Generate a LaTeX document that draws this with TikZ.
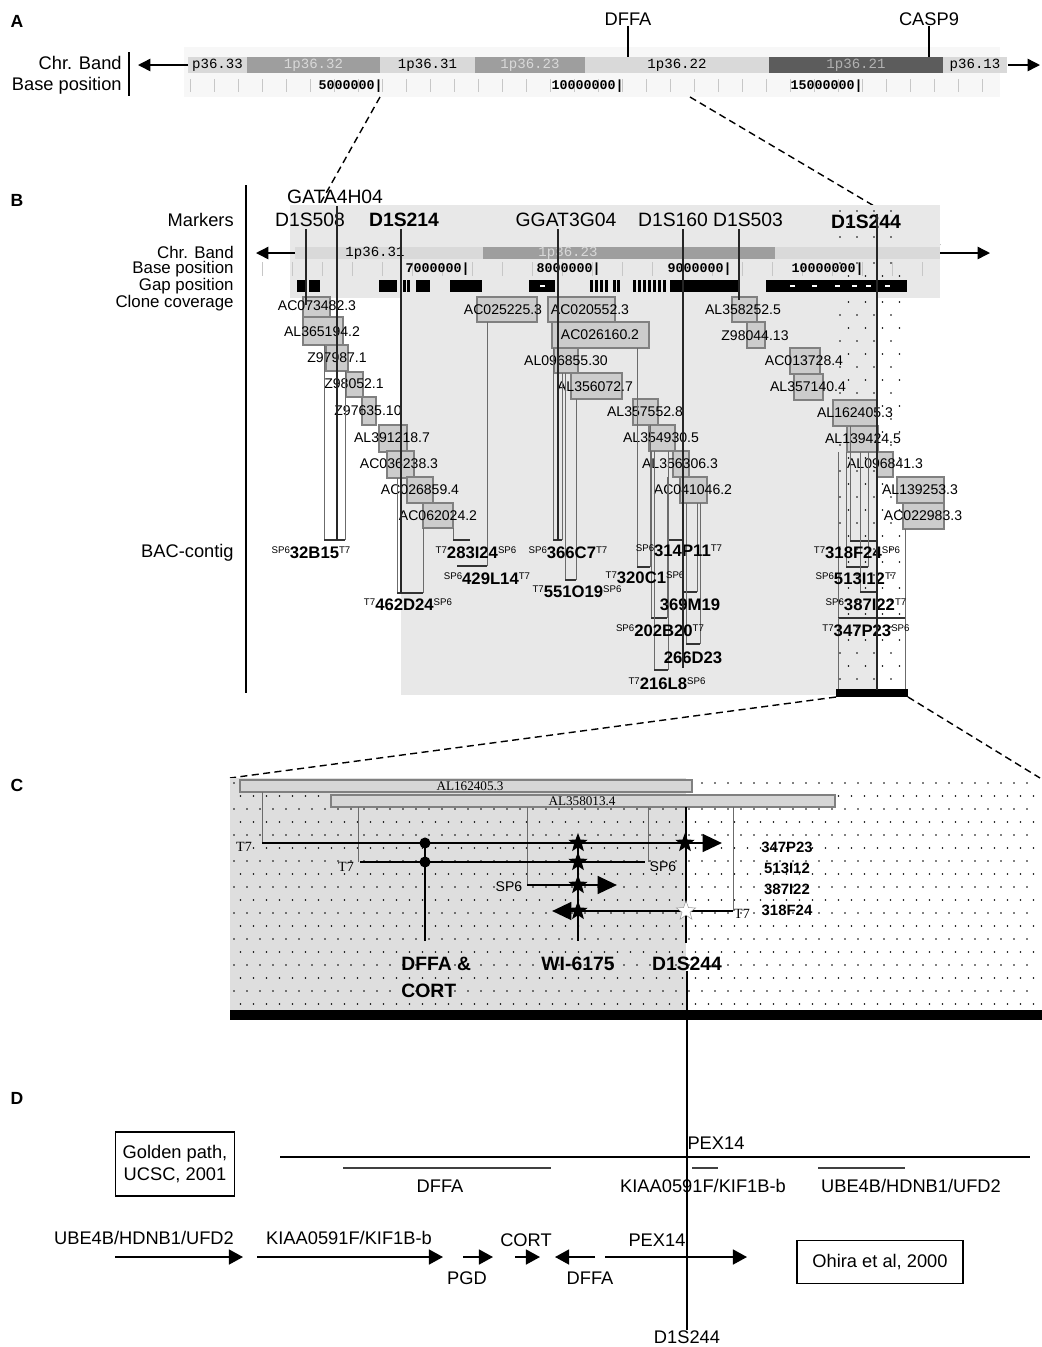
\documentclass[tikz,border=0pt]{standalone}
\usepackage{fontspec}
\setmainfont{Liberation Sans}
\setmonofont{Liberation Mono}
\newfontfamily\seriffont{Liberation Serif}
\usetikzlibrary{shapes.geometric, arrows.meta, positioning, calc}

\definecolor{bandpale}{gray}{0.85}
\definecolor{bandmid}{gray}{0.62}
\definecolor{banddeep}{gray}{0.36}
\definecolor{panelgray}{gray}{0.91}
\definecolor{windowgray}{gray}{0.87}
\definecolor{clonefill}{gray}{0.80}
\definecolor{cloneedge}{gray}{0.50}
\definecolor{bacline}{gray}{0.42}
\definecolor{tickgray}{gray}{0.78}

\newcommand{\bacname}[3]{\raisebox{0.55ex}{\fontsize{5.5}{6}\selectfont\mdseries #1}#2\raisebox{0.55ex}{\fontsize{5.5}{6}\selectfont\mdseries #3}}

\begin{document}
\begin{tikzpicture}[x=0.02cm, y=-0.02cm,
    panellabel/.style={font=\fontsize{10}{12}\selectfont\bfseries, inner sep=0pt},
    tracklabel/.style={font=\fontsize{10.4}{11}\selectfont, anchor=east, inner sep=0pt},
    tighttrack/.style={tracklabel, font=\fontsize{9.6}{10}\selectfont},
    genelabel/.style={font=\fontsize{10.4}{11}\selectfont, inner sep=0pt},
    bandtext/.style={font=\fontsize{8}{9}\selectfont\ttfamily, inner sep=0pt},
    basetext/.style={font=\fontsize{7.6}{9}\selectfont\ttfamily\bfseries, anchor=east, inner sep=0pt},
    marker/.style={font=\fontsize{11}{12}\selectfont, inner sep=0pt},
    markerline/.style={line width=1.1pt, black!85},
    clonebox/.style={fill=clonefill, draw=cloneedge, line width=0.6pt},
    clonetext/.style={font=\fontsize{8}{9}\selectfont, inner sep=0pt},
    baclabel/.style={font=\fontsize{9.5}{10}\selectfont\bfseries, inner sep=0pt},
    bacbar/.style={line width=1pt, black!80},
    bacside/.style={line width=0.4pt, bacline},
    zoomline/.style={line width=0.8pt, dash pattern=on 4pt off 2.5pt},
    bandarrow/.style={-{Triangle[length=7pt,width=7pt]}, line width=0.8pt},
    readarrow/.style={-{Triangle[length=11pt,width=10pt]}, line width=1.6pt},
    readline/.style={line width=1.6pt},
    siteline/.style={line width=1.1pt},
    endtext/.style={font=\fontsize{8}{9}\selectfont, inner sep=0pt},
    seqtext/.style={font=\fontsize{7.5}{8}\selectfont\seriffont, inner sep=0pt},
    probe/.style={star, star points=5, star point ratio=2.4, fill=black,
                  inner sep=0pt, minimum size=11.5pt},
    endpoint/.style={circle, fill=black, inner sep=0pt, minimum size=6.3pt},
    sitelabel/.style={font=\fontsize{11}{15}\selectfont\bfseries, inner sep=0pt},
    readname/.style={font=\fontsize{8.5}{9}\selectfont\bfseries, inner sep=0pt},
    framebox/.style={draw, line width=0.9pt, font=\fontsize{10.4}{12.5}\selectfont,
                     align=center, inner sep=0pt},
    geneline/.style={line width=1.3pt, black!75},
    genearrow/.style={-{Triangle[length=8pt,width=8.5pt]}, line width=1pt},
]
\useasboundingbox (0,0) rectangle (1042,1347);

% ======================================================
% A: overview of 1p36 bands with DFFA and CASP9
% ======================================================
\node[panellabel] (labA) at (17,21) {A};
\fill[panelgray!35] (184,47) rectangle (1000,97);
\node[genelabel] (dffaA) at (628,19) {DFFA};
\node[genelabel] (casp9A) at (929,19) {CASP9};
\coordinate (dffaTick) at (628,57);
\coordinate (casp9Tick) at (929,57);
\draw[line width=0.7pt] (dffaA.south) -- (dffaTick);
\draw[line width=0.7pt] (casp9A.south) -- (casp9Tick);

\node[tracklabel] (chrA) at (122,63) {Chr. Band};
\node[tracklabel] (baseA) at (122,86) {Base position};
\draw[line width=0.6pt] (129,52) -- (129,96);

\foreach \xa/\xb/\shade/\band/\ink [count=\i] in
   {188/247/bandpale/p36.33/black, 247/380/bandmid/1p36.32/white!85!black,
    380/475/bandpale/1p36.31/black, 475/585/bandmid/1p36.23/white!85!black,
    585/769/bandpale/1p36.22/black, 769/943/banddeep/1p36.21/white!70!black,
    943/1007/bandpale/p36.13/black} {
  \fill[\shade] (\xa,57) rectangle (\xb,73);
  \node[bandtext, text=\ink] (bandA\i) at ({(\xa+\xb)/2},65) {\band};
}
\draw[bandarrow] (188,65) -- (138,65);
\draw[bandarrow] (1008,65) -- (1040,65);

\foreach \k in {0,...,33}
  \draw[tickgray, line width=0.4pt] ({190+24*\k},79) -- ({190+24*\k},92);
\foreach \pos/\val [count=\i] in {383/5000000, 624/10000000, 863/15000000}
  \node[basetext] (posA\i) at (\pos,86) {\val|};

% zoom from A to B
\coordinate (zA1) at (380,97);  \coordinate (zB1) at (293,252);
\coordinate (zA2) at (690,97);  \coordinate (zB2) at (940,245);
\draw[zoomline] (zA1) -- (zB1);
\draw[zoomline] (zA2) -- (zB2);

% ======================================================
% B: markers, gaps, clone coverage and the BAC contig
% ======================================================
\node[panellabel] (labB) at (17,200) {B};
\fill[panelgray] (290,205) rectangle (940,298);
\fill[panelgray] (401,298) rectangle (905,695);
\fill[white] (877,298) rectangle (908,690);
% dotted D1S244 window
\foreach \r in {0,...,36}
  \foreach \c in {0,...,3}
    \fill ({840+17*\c+8.5*mod(\r,2)},{211+13*\r}) circle[radius=0.55pt];

\node[tracklabel] (trackB1) at (234,220) {Markers};
\foreach \txt/\yy [count=\i from 2] in {Chr. Band/252, Base position/269,
                                        Gap position/286, Clone coverage/303}
  \node[tighttrack] (trackB\i) at (234,\yy) {\txt};
\node[tracklabel] (trackB6) at (234,553) {BAC-contig};
\draw[line width=0.6pt] (246,185) -- (246,693);

% chromosome band
\fill[bandpale] (295,247) rectangle (940,259);
\fill[bandmid] (483,247) rectangle (775,259);
\node[bandtext] (bandB1) at (375,253) {1p36.31};
\node[bandtext, text=white!85!black] (bandB2) at (568,253) {1p36.23};
\draw[bandarrow] (295,253) -- (256,253);
\draw[bandarrow] (940,253) -- (990,253);

% base position
\foreach \k in {0,...,22}
  \draw[tickgray, line width=0.4pt] ({262+30*\k},262) -- ({262+30*\k},276);
\foreach \pos/\val [count=\i] in {470/7000000, 601/8000000, 732/9000000, 864/10000000}
  \node[basetext] (posB\i) at (\pos,269) {\val|};

% gap position
\foreach \xa/\xb in {297/306, 309/320, 379/397, 416/430, 450/482, 529/555, 670/740, 766/907}
  \fill (\xa,280) rectangle (\xb,292);
\foreach \xx in {403,407,590,595,600,605,613,617,633,638,643,648,653,658,663}
  \fill (\xx,280) rectangle ({\xx+2.5},292);
\foreach \xx in {540,790,812,835,852,866,885}
  \fill[white] (\xx,285) rectangle ({\xx+5},287);

% clone coverage
\foreach \xa/\ya/\xb/\yb/\lx/\ly/\acc [count=\i] in
   {303/297/330/317/317/306/AC073482.3, 303/317/343/345/322/332/AL365194.2,
    326/345/348/371/337/358/Z97987.1,   346/372/363/397/354/384/Z98052.1,
    362/397/376/425/368/411/Z97635.10,  379/425/407/452/392/438/AL391218.7,
    387/451/414/478/399/464/AC036238.3, 407/477/433/503/420/490/AC026859.4,
    423/503/453/528/438/516/AC062024.2, 477/297/537/322/503/310/AC025225.3,
    548/297/615/322/590/310/AC020552.3, 552/322/649/348/600/335/AC026160.2,
    554/348/578/373/566/361/AL096855.30, 571/373/622/399/595/387/AL356072.7,
    633/399/658/425/645/412/AL357552.8, 649/425/675/451/661/438/AL354930.5,
    673/451/689/477/680/464/AL356306.3, 680/477/707/503/693/490/AC041046.2,
    732/297/757/322/743/310/AL358252.5, 747/322/765/348/755/336/Z98044.13,
    790/348/820/374/804/361/AC013728.4, 794/374/823/400/808/387/AL357140.4,
    833/400/877/426/855/413/AL162405.3, 847/426/878/452/863/439/AL139424.5,
    877/452/893/477/885/464/AL096841.3, 897/477/944/503/920/490/AL139253.3,
    903/503/944/529/923/516/AC022983.3} {
  \draw[clonebox] (\xa,\ya) rectangle (\xb,\yb);
  \node[clonetext] (clone\i) at (\lx,\ly) {\acc};
}

% BAC extents: side lines up to the clones, end bar
\foreach \xa/\ta/\xb/\tb/\yb in
   {324/345/345/371/540, 453/528/470/540/540, 457/566/487/322/566,
    397/478/423/528/593, 553/348/562/373/540, 565/373/576/399/580,
    668/477/682/503/540, 637/348/650/425/567, 683/503/697/503/592,
    651/451/667/477/618, 686/503/700/503/644, 654/451/668/451/670,
    850/426/877/426/541, 846/452/868/452/567, 860/452/877/452/592,
    838/452/905/529/618} {
  \draw[bacside] (\xa,\ta) -- (\xa,\yb);
  \draw[bacside] (\xb,\tb) -- (\xb,\yb);
  \draw[bacbar] (\xa,\yb) -- (\xb,\yb);
}
\draw[bacside] (838,618) -- (838,690);
\draw[bacside] (905,618) -- (905,690);
\fill (836,689) rectangle (908,697);

\foreach \pre/\nm/\post/\xx/\yy [count=\i] in
   {SP6/32B15/T7/311/553, T7/283I24/SP6/476/553, SP6/429L14/T7/487/579,
    T7/462D24/SP6/408/605, SP6/366C7/T7/568/553, T7/551O19/SP6/577/592,
    SP6/314P11/T7/679/551, T7/320C1/SP6/645/578, {}/369M19/{}/690/605,
    SP6/202B20/T7/660/631, {}/266D23/{}/693/658, T7/216L8/SP6/667/684,
    T7/318F24/SP6/857/553, SP6/513I12/T7/856/579, SP6/387I22/T7/866/605,
    T7/347P23/SP6/866/631}
  \node[baclabel] (bac\i) at (\xx,\yy) {\bacname{\pre}{\nm}{\post}};

% markers and their lines
\node[marker] (gata) at (335,197) {GATA4H04};
\node[marker] (d1s508) at (310,220) {D1S508};
\node[marker, font=\fontsize{11}{12}\selectfont\bfseries] (d1s214) at (404,220) {D1S214};
\node[marker] (ggat) at (566,220) {GGAT3G04};
\node[marker] (d1s160) at (673,220) {D1S160};
\node[marker] (d1s503) at (748,220) {D1S503};
\node[marker, font=\fontsize{11}{12}\selectfont\bfseries] (d1s244B) at (866,222) {D1S244};
\foreach \xx/\ya/\yb [count=\i] in
   {306/229/305, 337/206/540, 401/229/593, 558/229/540,
    683/229/668, 739/229/300, 877/214/690} {
  \coordinate (mktop\i) at (\xx,\ya);
  \coordinate (mkbot\i) at (\xx,\yb);
  \draw[markerline] (mktop\i) -- (mkbot\i);
}

% zoom from B to C
\coordinate (zB3) at (836,697);  \coordinate (zC1) at (230,778);
\coordinate (zB4) at (908,697);  \coordinate (zC2) at (1040,778);
\draw[zoomline] (zB3) -- (zC1);
\draw[zoomline] (zB4) -- (zC2);

% ======================================================
% C: end-sequence mapping of four BACs around D1S244
% ======================================================
\node[panellabel] (labC) at (17,785) {C};
\fill[windowgray] (230,778) rectangle (686,1010);
\foreach \r in {0,...,17}
  \foreach \c in {0,...,61}
    \fill ({234+13*\c+6.5*mod(\r,2)},{783+13*\r}) circle[radius=0.55pt];
\fill (230,1010) rectangle (1042,1020);

\draw[clonebox, fill=clonefill!80] (240,780) rectangle (692,792);
\node[seqtext] (al162C) at (470,786) {AL162405.3};
\draw[clonebox, fill=clonefill!80] (331,795) rectangle (835,807);
\node[seqtext] (al358C) at (582,801) {AL358013.4};

\foreach \xx/\ya/\yb in {262/792/843, 358/807/862, 527/807/885, 648/807/862, 733/807/911}
  \draw[bacside] (\xx,\ya) -- (\xx,\yb);

% BAC end reads
\coordinate (rd1a) at (262,843); \coordinate (rd1b) at (722,843);
\coordinate (rd2a) at (360,862); \coordinate (rd2b) at (645,862);
\coordinate (rd3a) at (527,885); \coordinate (rd3b) at (617,885);
\coordinate (rd4a) at (733,911); \coordinate (rd4b) at (552,911);
\draw[readarrow] (rd1a) -- (rd1b);
\draw[readline]  (rd2a) -- (rd2b);
\draw[readarrow] (rd3a) -- (rd3b);
\draw[readarrow] (rd4a) -- (rd4b);

\node[endtext, font=\fontsize{8}{9}\selectfont\seriffont] (t7a) at (244,847) {T7};
\node[endtext, font=\fontsize{8}{9}\selectfont\seriffont] (t7b) at (346,867) {T7};
\node[endtext] (sp6a) at (663,867) {SP6};
\node[endtext] (sp6b) at (509,887) {SP6};
\node[endtext, font=\fontsize{8}{9}\selectfont\seriffont] (t7c) at (742,914) {T7};

\foreach \nm/\yy [count=\i] in {347P23/847, 513I12/868, 387I22/889, 318F24/910}
  \node[readname] (read\i) at (787,\yy) {\nm};

% mapped sites
\node[sitelabel, anchor=north west, align=left] (dffaC) at (401,957) {DFFA \&\\CORT};
\node[sitelabel, anchor=north] (wiC) at (578,957) {WI-6175};
\node[sitelabel, anchor=north] (d1s244C) at (687,957) {D1S244};
\coordinate (dffaDrop) at (425,941);
\coordinate (wiDrop) at (578,941);
\coordinate (d1s244Top) at (686,807);
\draw[siteline] (425,843) -- (dffaDrop);
\draw[siteline] (578,843) -- (wiDrop);
\draw[siteline] (d1s244Top) -- (686,943);

\node[endpoint] (pt1) at (425,843) {};
\node[endpoint] (pt2) at (425,862) {};
\node[probe] (st1) at (578,843) {};
\node[probe] (st2) at (685,843) {};
\node[probe] (st3) at (578,862) {};
\node[probe] (st4) at (578,885) {};
\node[probe] (st5) at (578,911) {};
\node[probe, fill=white, draw=black!40, line width=0.3pt] (st6) at (686,911) {};

% ======================================================
% D: gene order in two assemblies
% ======================================================
\node[panellabel] (labD) at (17,1098) {D};
\node[marker, font=\fontsize{10.4}{11}\selectfont] (d1s244D) at (687,1337) {D1S244};
\draw[line width=0.8pt] (d1s244C.south) -- (d1s244D.north);

\node[framebox, minimum width=2.38cm, minimum height=1.28cm] (golden) at (175,1164)
     {Golden path,\\UCSC, 2001};
\coordinate (gpStart) at (280,1157);
\coordinate (gpEnd) at (1030,1157);
\draw[line width=0.9pt] (gpStart) -- (gpEnd);
\node[genelabel] (pex14top) at (716,1143) {PEX14};
\draw[geneline] (343,1168) -- (551,1168);
\draw[geneline] (692,1168) -- (718,1168);
\draw[geneline] (818,1168) -- (905,1168);
\node[genelabel] (dffaTop) at (440,1186) {DFFA};
\node[genelabel] (kiafTop) at (703,1186) {KIAA0591F/KIF1B-b};
\node[genelabel] (ube4Top) at (911,1186) {UBE4B/HDNB1/UFD2};

\foreach \xa/\xb [count=\i] in {115/243, 257/443, 463/493, 515/540, 595/555, 605/747} {
  \coordinate (ga\i) at (\xa,1257);
  \coordinate (gb\i) at (\xb,1257);
  \draw[genearrow] (ga\i) -- (gb\i);
}
\node[genelabel] (ube4Low) at (144,1238) {UBE4B/HDNB1/UFD2};
\node[genelabel] (kiafLow) at (349,1238) {KIAA0591F/KIF1B-b};
\node[genelabel] (pgdLow) at (467,1278) {PGD};
\node[genelabel] (cortLow) at (526,1240) {CORT};
\node[genelabel] (dffaLow) at (590,1278) {DFFA};
\node[genelabel] (pex14Low) at (657,1240) {PEX14};
\node[framebox, minimum width=3.32cm, minimum height=0.86cm] (ohira) at (880,1262)
     {Ohira et al, 2000};

\end{tikzpicture}
\end{document}
